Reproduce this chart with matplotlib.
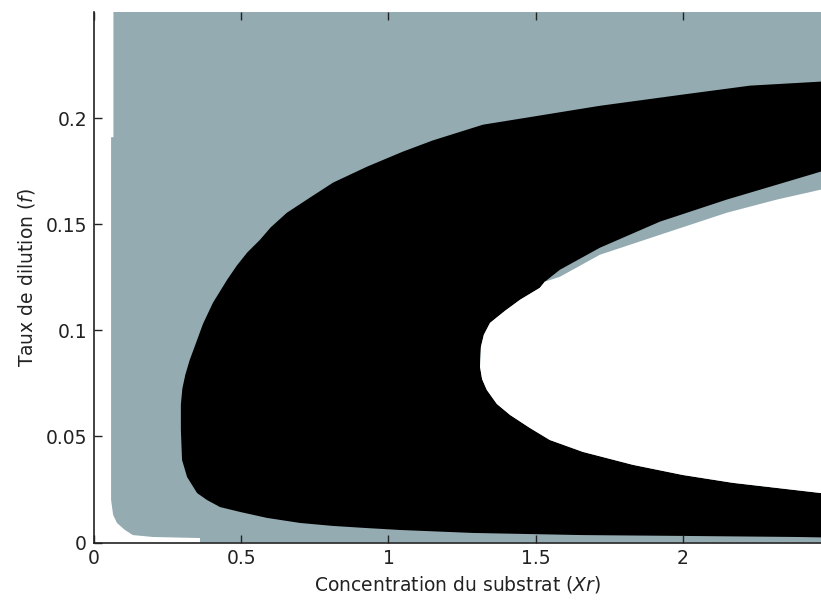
import matplotlib
matplotlib.use('Agg')
import matplotlib.pyplot as plt

# axis limits
x_max = 2.469
y_max = 0.25

x_ticks = [0, 0.5, 1, 1.5, 2]
x_tick_labels = ['0', '0.5', '1', '1.5', '2']
y_ticks = [0, 0.05, 0.1, 0.15, 0.2]
y_tick_labels = ['0', '0.05', '0.1', '0.15', '0.2']

# left / bottom edge of the grey region (top -> bottom right)
gray_edge_x = [0.066, 0.066, 0.058, 0.058, 0.065, 0.078, 0.105, 0.132, 0.200, 0.360, 0.360]
gray_edge_y = [0.250, 0.191, 0.191, 0.020, 0.013, 0.0092, 0.0059, 0.0035, 0.0026, 0.0021, 0.0]

# outer edge of the black region (top right -> nose -> bottom right)
black_outer_x = [2.469, 2.228, 2.000, 1.718, 1.491, 1.321, 1.151, 1.049, 0.927,
                 0.812, 0.733, 0.655, 0.600, 0.564, 0.520, 0.485, 0.452, 0.404, 0.370,
                 0.345, 0.325, 0.310, 0.300, 0.295, 0.295, 0.299, 0.316, 0.350, 0.384,
                 0.428, 0.496, 0.587, 0.700, 0.812, 0.927, 1.039, 1.287, 1.657, 2.000,
                 2.387, 2.469]
black_outer_y = [0.2172, 0.2153, 0.2111, 0.2058, 0.2007, 0.1969, 0.1895, 0.1842, 0.1771,
                 0.1696, 0.1625, 0.1554, 0.1485, 0.1427, 0.1366, 0.1305, 0.1238, 0.1130, 0.1030,
                 0.0935, 0.0860, 0.0790, 0.0725, 0.0650, 0.0531, 0.0389, 0.0309, 0.0233, 0.0200,
                 0.0167, 0.0144, 0.0116, 0.0092, 0.0078, 0.0068, 0.0059, 0.0045, 0.0035, 0.0031,
                 0.0026, 0.0024]

# upper inner edge of the black region (right -> where the grey sliver closes)
black_inner_x = [2.469, 2.319, 2.149, 1.922, 1.718, 1.582, 1.531]
black_inner_y = [0.1748, 0.1686, 0.1616, 0.1512, 0.1389, 0.1285, 0.1229]

# upper edge of the white region (right -> where the grey sliver closes)
white_top_x = [2.469, 2.319, 2.149, 1.922, 1.718, 1.582, 1.531]
white_top_y = [0.1663, 0.1616, 0.1554, 0.1450, 0.1356, 0.1252, 0.1229]

# shared black/white edge: nose and lower edge (sliver point -> bottom right)
nose_x = [1.514, 1.447, 1.396, 1.345, 1.324, 1.314, 1.311, 1.318, 1.334, 1.368,
          1.413, 1.480, 1.548, 1.660, 1.830, 2.000, 2.170, 2.469]
nose_y = [0.1200, 0.1144, 0.1092, 0.1035, 0.0979, 0.0922, 0.0828, 0.0770, 0.0719, 0.0653,
          0.0601, 0.0540, 0.0483, 0.0427, 0.0366, 0.0318, 0.0281, 0.0233]

gray = '#94abb2'
ink = '#222222'
fs = 13.5

fig = plt.figure(figsize=(8.21, 6.03), dpi=100)
ax = fig.add_axes([94 / 821, 1 - 542.5 / 603, 1 - 94 / 821, 530.5 / 603])
ax.set_facecolor('white')

# grey region
ax.fill(gray_edge_x + [x_max, x_max], gray_edge_y + [0, y_max], color=gray, lw=0)

# black region (outer edge, back along the nose, then the upper inner edge)
bx = black_outer_x + nose_x[::-1] + black_inner_x[::-1]
by = black_outer_y + nose_y[::-1] + black_inner_y[::-1]
ax.fill(bx, by, color='black', lw=0)

# white hole
ax.fill(white_top_x + nose_x, white_top_y + nose_y, color='white', lw=0)

ax.set_xlim(0, x_max)
ax.set_ylim(0, y_max)
ax.set_xticks(x_ticks)
ax.set_xticklabels(x_tick_labels)
ax.set_yticks(y_ticks)
ax.set_yticklabels(y_tick_labels)
ax.tick_params(direction='in', length=6, width=1, top=True, right=False,
               labelsize=fs, colors=ink, pad=5)
ax.spines['top'].set_visible(False)
ax.spines['right'].set_visible(False)
for s in ['left', 'bottom']:
    ax.spines[s].set_color(ink)
    ax.spines[s].set_linewidth(1.2)
    ax.spines[s].set_zorder(5)

ax.set_xlabel(r'Concentration du substrat ($Xr$)', fontsize=fs, color=ink, labelpad=4)
ax.set_ylabel(r'Taux de dilution ($f$)', fontsize=fs, color=ink, labelpad=6)

plt.savefig('out.png', dpi=100)
